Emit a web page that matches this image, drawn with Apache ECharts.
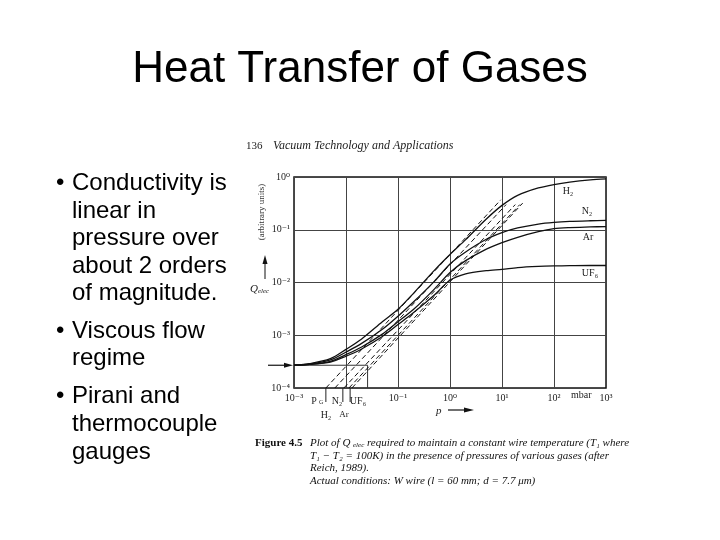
<!DOCTYPE html>
<html><head><meta charset="utf-8">
<script src="https://cdn.jsdelivr.net/npm/echarts@6/dist/echarts.min.js"></script>
<style>html,body{margin:0;padding:0;background:#fff}#c{width:720px;height:540px}</style>
</head><body><div id="c"></div>
<script>
// ---- data ----
const pressures = [0.001,0.002,0.005,0.01,0.02,0.05,0.1,0.2,0.5,1,2,5,10,20,50,100,200,500,1000];
const qH2  = [2.7e-4,2.9e-4,3.6e-4,5.4e-4,8.5e-4,1.8e-3,3.1e-3,6.3e-3,0.017,0.034,0.065,0.16,0.29,0.45,0.62,0.72,0.80,0.88,0.92];
const qN2  = [2.7e-4,2.85e-4,3.4e-4,4.8e-4,7.0e-4,1.3e-3,2.3e-3,4.3e-3,0.0105,0.0225,0.038,0.066,0.088,0.108,0.128,0.138,0.144,0.148,0.15];
const qAr  = [2.7e-4,2.8e-4,3.2e-4,4.3e-4,6.0e-4,1.05e-3,1.8e-3,3.1e-3,7.5e-3,0.0155,0.026,0.043,0.057,0.072,0.092,0.105,0.110,0.113,0.115];
const qUF6 = [2.7e-4,2.8e-4,3.1e-4,4.0e-4,5.5e-4,9.5e-4,1.6e-3,2.7e-3,5.8e-3,0.011,0.0145,0.0168,0.0178,0.0192,0.0202,0.0206,0.0208,0.021,0.021];
// linear asymptotes (dashed): start pressure at Q = 1e-4, end point
const dashStartP = [0.0041,0.0061,0.0091,0.0114,0.013];
const dashEndP   = [9.5,12,18,22,25];
const dashEndQ   = [0.37,0.30,0.30,0.30,0.32];
const baseQ = 2.7e-4;          // zero-pressure level
const baseEndP = 0.026;
const interceptTickP = [0.0041,0.0087,0.012];
const xTickExps = [-3,-1,0,1,2,3];
const yTickExps = [0,-1,-2,-3,-4];
const supMap = {'-':'⁻','0':'⁰','1':'¹','2':'²','3':'³','4':'⁴'};
const bullets = [
  ['Conductivity is','linear in','pressure over','about 2 orders','of magnitude.'],
  ['Viscous flow','regime'],
  ['Pirani and','thermocouple','gauges']
];

function sup(e){return '10'+String(e).split('').map(c=>supMap[c]).join('');}
function fmt(set){return v=>{const e=Math.round(Math.log10(v));return set.includes(e)?sup(e):'';};}

const chart = echarts.init(document.getElementById('c'));
const serif = 'Liberation Serif, DejaVu Serif, serif';
const mk = (name,q)=>({name,type:'line',smooth:0.3,symbol:'none',data:pressures.map((p,i)=>[p,q[i]]),
  lineStyle:{color:'#111',width:1.3},z:3});
const series = [mk('H2',qH2),mk('N2',qN2),mk('Ar',qAr),mk('UF6',qUF6)];
dashStartP.forEach((p,i)=>series.push({type:'line',symbol:'none',data:[[p,1e-4],[dashEndP[i],dashEndQ[i]]],
  lineStyle:{color:'#111',width:1,type:[5,3]},z:3}));
series.push({type:'line',symbol:'none',data:[[0.001,baseQ],[baseEndP,baseQ],[baseEndP,1e-4]],
  lineStyle:{color:'#333',width:1},z:2});

chart.setOption({
  animation:false,
  grid:{left:294,top:177,width:312,height:211,show:true,borderColor:'#111',borderWidth:1.5,backgroundColor:'transparent'},
  xAxis:{type:'log',logBase:10,min:1e-3,max:1e3,interval:1,
    axisLine:{show:false},axisTick:{show:false},
    splitLine:{show:true,lineStyle:{color:'#444',width:1}},
    axisLabel:{formatter:fmt(xTickExps),fontFamily:serif,fontSize:10,color:'#222',margin:5,showMinLabel:true,showMaxLabel:true}},
  yAxis:{type:'log',logBase:10,min:1e-4,max:1,interval:1,
    axisLine:{show:false},axisTick:{show:false},
    splitLine:{show:true,lineStyle:{color:'#444',width:1}},
    axisLabel:{formatter:fmt(yTickExps),fontFamily:serif,fontSize:10,color:'#222',margin:4,showMinLabel:true,showMaxLabel:true}},
  series
});

const px = (p,q)=>chart.convertToPixel({gridIndex:0},[p,q]);
const g = [];
const txt = (x,y,text,font,opt={})=>g.push(Object.assign({type:'text',x,y,style:Object.assign({text,font,fill:opt.fill||'#000',textAlign:opt.align||'left',textVerticalAlign:'middle'},opt.style||{})},opt.extra||{}));
// slide title and bullets
txt(360,70,'Heat Transfer of Gases','44px "Liberation Sans", Arial, sans-serif',{align:'center'});
const lineYs = [[183,211,238,266,293],[331,358],[396,424,452]];
bullets.forEach((b,bi)=>{
  txt(56,lineYs[bi][0],'•','24px "Liberation Sans", Arial, sans-serif');
  b.forEach((l,li)=>txt(72,lineYs[bi][li],l,'24px "Liberation Sans", Arial, sans-serif'));
});
// page header
txt(246,146,'136','11px '+serif,{fill:'#222'});
txt(273,146,'Vacuum Technology and Applications','italic 12px '+serif,{fill:'#222'});
// axis titles
g.push({type:'text',x:262,y:212,rotation:Math.PI/2,style:{text:'(arbitrary units)',font:'9px '+serif,fill:'#333',textAlign:'center',textVerticalAlign:'middle'}});
g.push({type:'text',x:250,y:289,style:{text:'{q|Q}{s|elec}',rich:{q:{font:'italic 11px '+serif,fill:'#222'},s:{font:'italic 7px '+serif,fill:'#222',padding:[5,0,0,0]}},textVerticalAlign:'middle'}});
g.push({type:'line',shape:{x1:265,y1:279,x2:265,y2:262},style:{stroke:'#111',lineWidth:1}});
g.push({type:'polygon',shape:{points:[[265,255],[262.5,264],[267.5,264]]},style:{fill:'#111'}});
// zero-pressure arrow
const yb = px(1e-3,baseQ)[1];
g.push({type:'line',shape:{x1:268,y1:yb,x2:286,y2:yb},style:{stroke:'#111',lineWidth:1.2}});
g.push({type:'polygon',shape:{points:[[293,yb],[284,yb-2.5],[284,yb+2.5]]},style:{fill:'#111'}});
// x axis extras
txt(571,395,'mbar','10px '+serif,{fill:'#222'});
txt(436,411,'p','italic 11px '+serif,{fill:'#222'});
g.push({type:'line',shape:{x1:448,y1:410,x2:466,y2:410},style:{stroke:'#111',lineWidth:1.2}});
g.push({type:'polygon',shape:{points:[[474,410],[464,407.5],[464,412.5]]},style:{fill:'#111'}});
const yAxisPix = px(1e-3,1e-4)[1];
interceptTickP.forEach(p=>{const x=px(p,1e-4)[0];g.push({type:'line',shape:{x1:x,y1:yAxisPix,x2:x,y2:yAxisPix+14},style:{stroke:'#222',lineWidth:1}});});
txt(314,401,'P','10px '+serif,{align:'center',fill:'#222'});
txt(319,402,'G','6px '+serif,{fill:'#222'});
txt(337,401,'N₂','10px '+serif,{align:'center',fill:'#222'});
txt(358,401,'UF₆','10px '+serif,{align:'center',fill:'#222'});
txt(326,415,'H₂','10px '+serif,{align:'center',fill:'#222'});
txt(344,415,'Ar','9px '+serif,{align:'center',fill:'#222'});
// curve labels
txt(568,191,'H₂','10px '+serif,{align:'center',fill:'#222'});
txt(587,211,'N₂','10px '+serif,{align:'center',fill:'#222'});
txt(588,237,'Ar','10px '+serif,{align:'center',fill:'#222'});
txt(590,273,'UF₆','10px '+serif,{align:'center',fill:'#222'});
// caption
txt(255,443,'Figure 4.5','bold 11px '+serif,{fill:'#111'});
txt(310,443,'Plot of Q','italic 11px '+serif,{fill:'#111'});
txt(353,445,'elec','italic 7px '+serif,{fill:'#111'});
txt(367,443,'required to maintain a constant wire temperature (T₁ where','italic 11px '+serif,{fill:'#111'});
txt(310,456,'T₁ − T₂ = 100K) in the presence of pressures of various gases (after','italic 11px '+serif,{fill:'#111'});
txt(310,468,'Reich, 1989).','italic 11px '+serif,{fill:'#111'});
txt(310,481,'Actual conditions: W wire (l = 60 mm; d = 7.7 μm)','italic 11px '+serif,{fill:'#111'});
chart.setOption({graphic:g});
</script></body></html>
